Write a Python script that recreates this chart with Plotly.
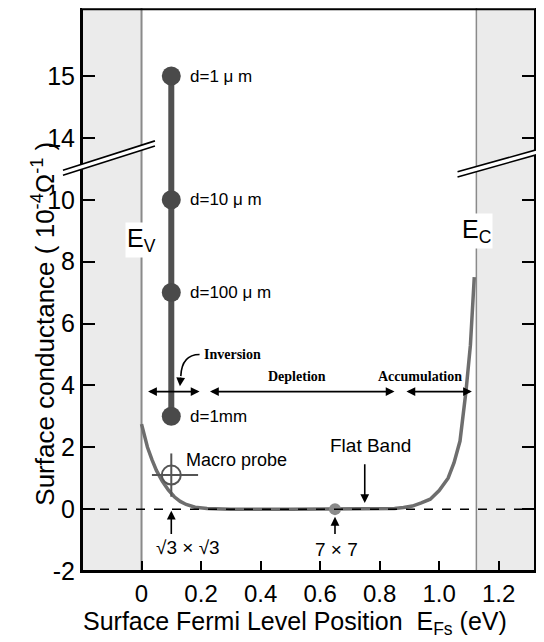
import plotly.graph_objects as go

# ---- data ----
ef_curve = [0, 0.01, 0.02, 0.035, 0.05, 0.07, 0.09, 0.11, 0.13, 0.15, 0.18, 0.22, 0.3, 0.5, 0.7,
            0.8, 0.85, 0.88, 0.91, 0.94, 0.97, 1.0, 1.03, 1.05, 1.07, 1.09, 1.105, 1.118]
sigma_curve = [2.75, 2.35, 2.0, 1.6, 1.25, 0.9, 0.62, 0.4, 0.25, 0.15, 0.06, 0.02, 0.0, 0.0, 0.0,
               0.0, 0.02, 0.05, 0.1, 0.2, 0.32, 0.6, 1.0, 1.5, 2.2, 3.8, 5.3, 7.5]

probe_x = 0.1
probe_depths = ["d=1mm", "d=100 μ m", "d=10 μ m", "d=1 μ m"]
probe_sigma = [3, 7, 10, 15]

macro_x, macro_y = 0.1, 1.1
macro_xerr_minus, macro_xerr_plus, macro_yerr = 0.065, 0.09, 0.7

x77, y77 = 0.65, 0.0

ev, ec = 0.0, 1.125

x_ticks = [0, 0.2, 0.4, 0.6, 0.8, 1.0, 1.2]
x_ticklabels = ["0", "0.2", "0.4", "0.6", "0.8", "1.0", "1.2"]
y_ticklabels = ["-2", "0", "2", "4", "6", "8", "10", "14", "15"]
y_tickreal = [-2, 0, 2, 4, 6, 8, 10, 14, 15]


# broken axis: real value -> display value (values above break compressed: 14->12, 15->14)
def disp(v):
    if v <= 10:
        return v
    return 12 + (v - 14) * 2


FONT = "Liberation Sans, Arial, sans-serif"
SERIF = "Liberation Serif, Times New Roman, serif"

fig = go.Figure()

# band gap edges shading
fig.add_shape(type="rect", xref="x", yref="paper", x0=-0.2, x1=ev, y0=0, y1=1,
              fillcolor="#ebebeb", line_width=0, layer="below")
fig.add_shape(type="rect", xref="x", yref="paper", x0=ec, x1=1.322, y0=0, y1=1,
              fillcolor="#ebebeb", line_width=0, layer="below")
fig.add_shape(type="line", xref="x", yref="paper", x0=ev, x1=ev, y0=0, y1=1,
              line=dict(color="#8a8a8a", width=2), layer="below")
fig.add_shape(type="line", xref="x", yref="paper", x0=ec, x1=ec, y0=0, y1=1,
              line=dict(color="#8a8a8a", width=1.5), layer="below")

# dashed zero line
fig.add_shape(type="line", xref="paper", yref="y", x0=0, x1=1, y0=0, y1=0,
              line=dict(color="black", width=1.5, dash="dash"))

# frame
fig.add_shape(type="rect", xref="paper", yref="paper", x0=0, x1=1, y0=0, y1=0.998,
              line=dict(color="black", width=2), fillcolor="rgba(0,0,0,0)")

# conductance curve
fig.add_trace(go.Scatter(x=ef_curve, y=sigma_curve, mode="lines",
                         line=dict(color="#6e6e6e", width=3.5), hoverinfo="skip"))

# probe-depth vertical line and markers
fig.add_trace(go.Scatter(x=[probe_x] * len(probe_sigma), y=[disp(v) for v in probe_sigma],
                         mode="lines+markers",
                         line=dict(color="#505050", width=6),
                         marker=dict(color="#4a4a4a", size=19), hoverinfo="skip"))

# macro probe
fig.add_trace(go.Scatter(x=[macro_x], y=[macro_y], mode="markers",
                         marker=dict(symbol="circle-open", size=19, color="#555555",
                                     line=dict(width=2, color="#555555")),
                         error_x=dict(type="data", symmetric=False, array=[macro_xerr_plus],
                                      arrayminus=[macro_xerr_minus], color="#555555",
                                      thickness=2, width=0),
                         error_y=dict(type="data", array=[macro_yerr], color="#555555",
                                      thickness=2, width=0),
                         hoverinfo="skip"))

# 7x7 point
fig.add_trace(go.Scatter(x=[x77], y=[y77], mode="markers",
                         marker=dict(color="#8a8a8a", size=12), hoverinfo="skip"))

annotations = []
for lab, v in zip(probe_depths, probe_sigma):
    annotations.append(dict(x=0.155, y=disp(v), text=lab, showarrow=False, xanchor="left",
                            yanchor="middle", font=dict(family=FONT, size=17, color="black")))

annotations += [
    dict(x=0.143, y=1.6, text="Macro probe", showarrow=False, xanchor="left",
         font=dict(family=FONT, size=18, color="black")),
    dict(x=0.77, y=2.05, text="Flat Band", showarrow=False,
         font=dict(family=FONT, size=19, color="black")),
    dict(x=0.157, y=-1.25, text="√3 × √3", showarrow=False,
         font=dict(family=FONT, size=19, color="black")),
    dict(x=0.655, y=-1.3, text="7 × 7", showarrow=False,
         font=dict(family=FONT, size=19, color="black")),
    dict(x=0.0, y=8.7, text="E<sub>V</sub>", showarrow=False, bgcolor="white",
         font=dict(family=FONT, size=25, color="black")),
    dict(x=ec, y=9.0, text="E<sub>C</sub>", showarrow=False, bgcolor="white",
         font=dict(family=FONT, size=25, color="black")),
    dict(x=0.305, y=5.0, text="<b>Inversion</b>", showarrow=False,
         font=dict(family=SERIF, size=14, color="black")),
    dict(x=0.522, y=4.3, text="<b>Depletion</b>", showarrow=False,
         font=dict(family=SERIF, size=14, color="black")),
    dict(x=0.935, y=4.3, text="<b>Accumulation</b>", showarrow=False,
         font=dict(family=SERIF, size=14, color="black")),
]

# arrows
def arrow(x0, y0, x1, y1, both=False):
    return dict(x=x1, y=y1, ax=x0, ay=y0, xref="x", yref="y", axref="x", ayref="y",
                text="", showarrow=True, arrowhead=2, arrowsize=1.1, arrowwidth=1.6,
                arrowcolor="black", arrowside="end+start" if both else "end",
                startarrowhead=2, startarrowsize=1.1)

annotations += [
    arrow(0.017, 3.8, 0.195, 3.8, both=True),
    arrow(0.225, 3.8, 0.85, 3.8, both=True),
    arrow(0.885, 3.8, 1.11, 3.8, both=True),
    arrow(0.75, 1.5, 0.75, 0.2),
    arrow(0.1, -0.85, 0.1, -0.05),
    arrow(0.65, -0.85, 0.65, -0.25),
    arrow(0.132, 4.3, 0.129, 3.97),
]

# curved pointer from "Inversion"
fig.add_shape(type="path", xref="x", yref="y",
              path="M 0.195,5.0 Q 0.135,5.0 0.132,4.3",
              line=dict(color="black", width=1.6))

# axis break marks (paper coords)
def brk(x0, x1, y0, y1):
    gap = 0.009
    fig.add_shape(type="path", xref="paper", yref="paper",
                  path=f"M {x0},{y0} L {x1},{y1} L {x1},{y1 - gap} L {x0},{y0 - gap} Z",
                  fillcolor="white", line_width=0)
    fig.add_shape(type="line", xref="paper", yref="paper", x0=x0, x1=x1, y0=y0, y1=y1,
                  line=dict(color="black", width=1.6))
    fig.add_shape(type="line", xref="paper", yref="paper", x0=x0, x1=x1, y0=y0 - gap, y1=y1 - gap,
                  line=dict(color="black", width=1.6))

brk(-0.042, 0.161, 0.712, 0.764)
brk(0.829, 1.02, 0.709, 0.752)

# axis titles
annotations += [
    dict(xref="paper", yref="paper", x=-0.126, y=0.44, textangle=-90,
         text="Surface conductance ( 10<sup>-4</sup>Ω<sup>-1</sup> )", showarrow=False,
         font=dict(family=FONT, size=26, color="black")),
    dict(xref="paper", yref="paper", x=0.47, y=-0.092, yanchor="middle",
         text="Surface Fermi Level Position  E<sub>Fs</sub> (eV)", showarrow=False,
         font=dict(family=FONT, size=25, color="black")),
]

# page body has an 8px margin: size the figure so the plot lands where the reference has it
fig.update_layout(
    width=536, height=634,
    margin=dict(l=74, r=9, t=0, b=71),
    plot_bgcolor="white", paper_bgcolor="white",
    showlegend=False,
    annotations=annotations,
    font=dict(family=FONT, color="black"),
)
fig.update_xaxes(range=[-0.2, 1.322], tickvals=x_ticks, ticktext=x_ticklabels,
                 ticks="inside", ticklen=10, tickwidth=2, tickcolor="black",
                 showline=True, linecolor="black", linewidth=2, mirror=True, automargin=False,
                 showgrid=False, zeroline=False, tickfont=dict(size=24, family=FONT))
fig.update_yaxes(range=[-2, 16.2], tickvals=[disp(v) for v in y_tickreal], ticktext=y_ticklabels,
                 ticks="inside", ticklen=13, tickwidth=2, tickcolor="black",
                 showline=True, linecolor="black", linewidth=2, mirror="ticks", automargin=False,
                 showgrid=False, zeroline=False, tickfont=dict(size=25, family=FONT))

fig.write_html("out.html")
